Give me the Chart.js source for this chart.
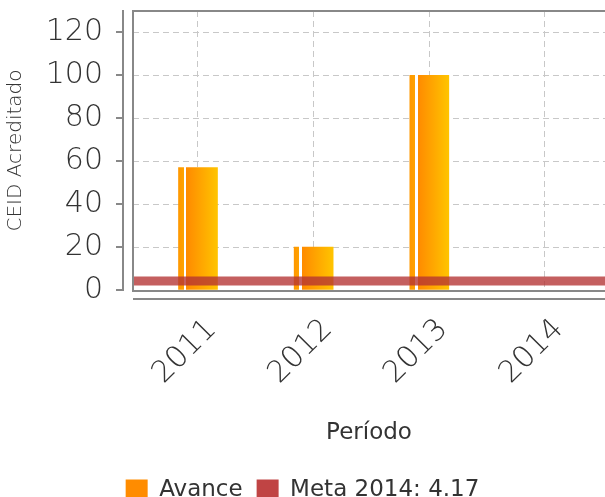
<!DOCTYPE html>
<html lang="es">
<head>
<meta charset="UTF-8">
<title>CEID Acreditado por periodo</title>
<script src="https://cdn.jsdelivr.net/npm/chart.js@4.4.1/dist/chart.umd.min.js"></script>
<style>
  html, body { margin: 0; padding: 0; background: #fff; overflow: hidden; }
  #wrap { position: relative; width: 605px; height: 512px; }
</style>
</head>
<body>
<div id="wrap"><canvas id="chart"></canvas></div>
<script>
const periodos = ['2011', '2012', '2013', '2014'];
const avance = [57, 20, 100, null];
const meta = 4.17;
const metaLabel = 'Meta 2014: ' + meta.toFixed(2);
const yTicks = [0, 20, 40, 60, 80, 100, 120];

const X_MIN = -0.562, X_MAX = 3.519;   // plot runs a bit past the first/last period
const BAR_W = 39;
const legendColors = ['#FF8C00', '#C04444'];

Chart.defaults.font.family = "'DejaVu Sans', sans-serif";

// orange -> yellow bar with the thin left strip
function barFill(c) {
  const chart = c.chart;
  const xs = chart.scales.x;
  if (c.type !== 'data' || !xs) return legendColors[0];
  const cx = xs.getPixelForValue(c.dataIndex);
  if (!isFinite(cx)) return legendColors[0];
  const g = chart.ctx.createLinearGradient(cx - BAR_W / 2, 0, cx + BAR_W / 2, 0);
  g.addColorStop(0, '#FF9800');
  g.addColorStop(0.13, '#FFA200');
  g.addColorStop(0.13, '#FFFFFF');
  g.addColorStop(0.2, '#FFFFFF');
  g.addColorStop(0.2, '#FF8A00');
  g.addColorStop(1, '#FFC400');
  return g;
}

// plot frame plus detached axis lines
const frame = {
  id: 'frame',
  afterDraw(chart) {
    const { ctx, chartArea: a, scales: { y } } = chart;
    ctx.save();
    ctx.strokeStyle = '#888';
    ctx.lineWidth = 2;
    ctx.strokeRect(a.left, a.top, a.right - a.left + 4, a.bottom - a.top + 1);
    ctx.beginPath();
    ctx.moveTo(a.left - 10, a.top - 1);
    ctx.lineTo(a.left - 10, a.bottom + 1);
    y.ticks.forEach(t => {
      const py = Math.round(y.getPixelForValue(t.value));
      ctx.moveTo(a.left - 17, py);
      ctx.lineTo(a.left - 10, py);
    });
    ctx.moveTo(a.left, a.bottom + 9);
    ctx.lineTo(a.right, a.bottom + 9);
    ctx.stroke();
    ctx.restore();
  }
};

new Chart(document.getElementById('chart'), {
  data: {
    datasets: [
      {
        type: 'bar',
        label: 'Avance',
        data: periodos.map((p, i) => ({ x: i, y: avance[i] })),
        backgroundColor: barFill,
        barThickness: BAR_W,
        order: 1
      },
      {
        type: 'line',
        label: metaLabel,
        data: [{ x: X_MIN, y: meta }, { x: X_MAX, y: meta }],
        borderColor: 'rgba(180, 50, 50, 0.78)',
        backgroundColor: legendColors[1],
        borderWidth: 9,
        borderCapStyle: 'butt',
        pointRadius: 0,
        order: 0
      }
    ]
  },
  options: {
    responsive: true,
    maintainAspectRatio: false,
    animation: false,
    layout: { padding: { top: 11, left: 0, right: 0, bottom: 0 } },
    scales: {
      x: {
        type: 'linear',
        min: X_MIN,
        max: X_MAX,
        offset: false,
        afterBuildTicks: s => { s.ticks = periodos.map((p, i) => ({ value: i })); },
        afterFit: s => { s.height = 175; s.paddingLeft = 0; s.paddingRight = 0; },
        ticks: {
          callback: v => periodos[v],
          autoSkip: false,
          minRotation: 45,
          maxRotation: 45,
          padding: 22,
          labelOffset: 14,
          color: '#333',
          font: { size: 30, weight: 300 }
        },
        grid: { color: '#c8c8c8', drawTicks: false, offset: false },
        border: { display: false, dash: [6, 4] },
        title: {
          display: true,
          text: 'Período',
          color: '#333',
          font: { size: 23 },
          padding: { top: 4, bottom: 18 }
        }
      },
      y: {
        min: 0,
        max: 130,
        afterBuildTicks: s => { s.ticks = yTicks.map(v => ({ value: v })); },
        afterFit: s => { s.width = 133; s.paddingTop = 0; s.paddingBottom = 0; },
        ticks: { padding: 30, color: '#333', font: { size: 30, weight: 300 } },
        grid: { color: '#c8c8c8', drawTicks: false },
        border: { display: false, dash: [6, 4] },
        title: {
          display: true,
          text: 'CEID Acreditado',
          color: '#333',
          font: { size: 20, weight: 300 },
          padding: 4
        }
      }
    },
    plugins: {
      tooltip: { enabled: false },
      legend: {
        position: 'bottom',
        labels: {
          boxWidth: 22,
          boxHeight: 22,
          padding: 14,
          color: '#333',
          font: { size: 23 },
          generateLabels(chart) {
            const items = Chart.defaults.plugins.legend.labels.generateLabels(chart);
            items.sort((a, b) => a.datasetIndex - b.datasetIndex);
            return items.map(it => Object.assign(it, {
              fillStyle: legendColors[it.datasetIndex],
              strokeStyle: legendColors[it.datasetIndex],
              lineWidth: 0
            }));
          }
        }
      }
    }
  },
  plugins: [frame]
});
</script>
</body>
</html>
